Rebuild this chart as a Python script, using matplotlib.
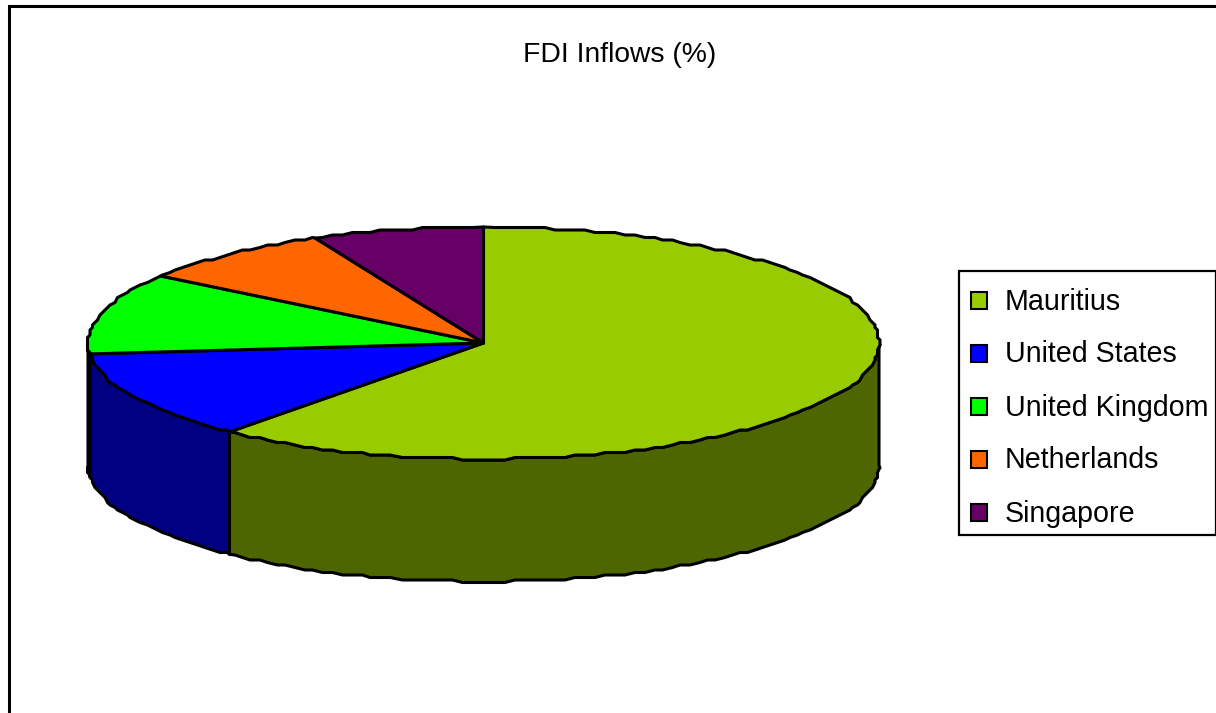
import numpy as np
import matplotlib
matplotlib.use('Agg')
import matplotlib.pyplot as plt
from matplotlib.colors import to_rgb
from matplotlib.patches import Polygon, Rectangle

plt.rcParams['font.family'] = ['Liberation Sans', 'DejaVu Sans']

title = 'FDI Inflows (%)'
countries = ['Mauritius', 'United States', 'United Kingdom', 'Netherlands', 'Singapore']
inflows = [61.1, 12.4, 11.3, 8.2, 7.0]
colors = ['#99cc00', '#0000ff', '#00ff00', '#ff6600', '#660066']

# pie geometry, in pixels
CX, CY = 483.5, 343.0
RX, RY = 395.5, 116.0
DEPTH = 122.5
STEP = 2.5  # the rim is slightly wobbly, not smooth
ARC_DEG = 1.5


def rim(a0, a1, drop=0.0):
    # angles in degrees, clockwise from 12 o'clock; samples sit on a shared grid
    # so the wall and the top face trace the same outline
    inner = np.arange(np.ceil(a0 / ARC_DEG), np.floor(a1 / ARC_DEG) + 1) * ARC_DEG
    inner = inner[(inner > a0) & (inner < a1)]
    t = np.radians(np.concatenate([[a0], inner, [a1]]))
    x0 = CX + RX * np.sin(t)
    y0 = CY - RY * np.cos(t)
    x = np.round(x0 / STEP) * STEP
    y = np.round(y0 / STEP) * STEP
    # keep the slice corners exact
    x[0], y[0] = x0[0], y0[0]
    x[-1], y[-1] = x0[-1], y0[-1]
    return np.column_stack([x, y + drop])


fig = plt.figure(figsize=(12.16, 7.13), dpi=100)
ax = fig.add_axes([0, 0, 1, 1])
ax.set_xlim(0, 1216)
ax.set_ylim(713, 0)
ax.axis('off')

# outer chart border runs off the right and bottom edges
ax.add_patch(Rectangle((9, 6), 1300, 800, fc='white', ec='black', lw=2.2, zorder=0))

total = sum(inflows)
edges = np.concatenate([[0], np.cumsum(inflows) / total * 360])

# side wall, only the part facing the viewer
for i in range(len(inflows)):
    a0 = max(edges[i], 90)
    a1 = min(edges[i + 1], 270)
    if a1 <= a0:
        continue
    top = rim(a0, a1)
    bottom = rim(a0, a1, DEPTH)[::-1]
    dark = tuple(c * 0.5 for c in to_rgb(colors[i]))
    ax.add_patch(Polygon(np.vstack([top, bottom]), closed=True, fc=dark, ec='black',
                         lw=2.2, joinstyle='round', zorder=2))

# top face
for i in range(len(inflows)):
    pts = np.vstack([[CX, CY], rim(edges[i], edges[i + 1])])
    ax.add_patch(Polygon(pts, closed=True, fc=colors[i], ec='black',
                         lw=2.2, joinstyle='round', zorder=3))

ax.text(619.5, 54.5, title, fontsize=20.3, ha='center', va='center', color='black')

# legend box
ax.add_patch(Rectangle((959, 271), 256.5, 264, fc='white', ec='black', lw=1.6, zorder=4))
for i, name in enumerate(countries):
    y = 300 + i * 53
    ax.add_patch(Rectangle((970.5, y - 8.5), 16, 17, fc=colors[i], ec='black', lw=1.5, zorder=5))
    ax.text(1005, y + 1.5, name, fontsize=20.6, ha='left', va='center', color='black', zorder=5)

fig.savefig('out.png', dpi=100)
